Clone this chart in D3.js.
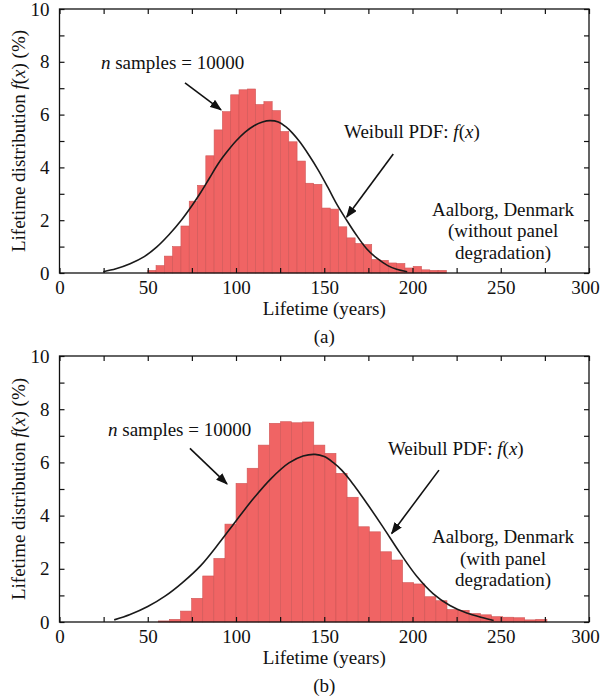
<!DOCTYPE html>
<html lang="en">
<head>
<meta charset="utf-8">
<title>Lifetime distribution - Aalborg</title>
<script src="https://d3js.org/d3.v7.min.js"></script>
<style>
  body { margin: 0; background: #fff; }
  svg text {
    font-family: "Liberation Serif", "Times New Roman", serif;
    font-size: 19px;
    fill: #111;
  }
  .bar { fill: #f06464; stroke: #cf5656; stroke-width: 0.6; }
  .pdf { fill: none; stroke: #1a1a1a; stroke-width: 1.6; }
  .frame { fill: none; stroke: #111; stroke-width: 1.3; }
  .tick line { stroke: #111; stroke-width: 1.2; }
  .arrow { stroke: #111; stroke-width: 1.6; }
</style>
</head>
<body>
<script>
var width = 600,
    height = 700;

// ticks
var xTickLabels = [0, 50, 100, 150, 200, 250, 300];
var xMinorTicks = [25, 75, 125, 175, 225, 275];
var yTickLabels = [0, 2, 4, 6, 8, 10];
var yMinorTicks = [1, 3, 5, 7, 9];

// (a) without panel degradation - histogram in % of samples
var binStartA = 50, binWidthA = 4.7;
var histA = [0.10, 0.28, 0.64, 1.00, 1.78, 2.72, 3.32, 4.44, 5.42, 6.11,
             6.75, 6.94, 6.97, 6.38, 6.49, 6.15, 5.36, 4.97, 4.24, 3.40,
             3.36, 2.46, 2.42, 1.75, 1.33, 1.12, 1.08, 0.51, 0.48, 0.38,
             0.36, 0.19, 0.25, 0.12, 0.10, 0.10];
// weibull pdf [years, %]
var pdfA = [[24.8, 0.05], [32, 0.16], [40, 0.35], [48, 0.62], [55, 0.98],
            [62, 1.45], [69, 2.0], [75, 2.55], [80, 3.05], [85, 3.6],
            [90, 4.15], [95, 4.6], [100, 5.0], [105, 5.33], [110, 5.57],
            [115, 5.72], [119.3, 5.77], [124, 5.72], [128, 5.55], [132, 5.3],
            [136, 4.98], [141, 4.5], [146.6, 3.9], [152, 3.25], [157, 2.62],
            [162.7, 2.0], [168.4, 1.42], [174, 0.92], [180, 0.55], [186, 0.28],
            [191, 0.14], [197, 0.05]];

// (b) with panel degradation
var binStartB = 56, binWidthB = 6.29;
var histB = [0.04, 0.10, 0.41, 0.89, 1.73, 2.39, 3.68, 5.21, 5.78, 6.65,
             7.47, 7.53, 7.49, 7.52, 6.65, 6.34, 5.59, 4.69, 3.58, 3.39,
             2.64, 2.33, 1.48, 1.43, 0.95, 0.80, 0.47, 0.44, 0.32, 0.27,
             0.20, 0.18, 0.16, 0.08, 0.10];
var pdfB = [[31, 0.08], [40, 0.28], [50, 0.58], [60, 0.98], [70, 1.5],
            [80, 2.12], [90, 2.93], [100, 3.8], [110, 4.65], [120, 5.4],
            [130, 5.98], [138, 6.24], [144.8, 6.3], [150, 6.22], [155, 6.0],
            [160, 5.7], [165, 5.3], [170, 4.85], [175, 4.38], [183.5, 3.55],
            [192.9, 2.6], [202.4, 1.72], [211.8, 1.06], [221.2, 0.62], [230.7, 0.34],
            [240, 0.16], [246, 0.06]];

var siteLinesA = ["Aalborg, Denmark", "(without panel", "degradation)"];
var siteLinesB = ["Aalborg, Denmark", "(with panel", "degradation)"];

// layout of the two panels, annotation anchors are in data units
var panels = [
  { top: 9, bottom: 273, caption: "(a)", hist: histA, start: binStartA, bw: binWidthA, pdf: pdfA,
    site: siteLinesA, siteAt: [251.3, 2.17], nAt: [23.5, 7.73], nArrow: [[71.1, 7.2], [91.5, 6.18]],
    wAt: [161.2, 5.12], wArrow: [[189.1, 4.51], [162.7, 2.12]] },
  { top: 356, bottom: 622, caption: "(b)", hist: histB, start: binStartB, bw: binWidthB, pdf: pdfB,
    site: siteLinesB, siteAt: [251.3, 2.97], nAt: [27.5, 6.99], nArrow: [[73.9, 6.53], [94.9, 5.19]],
    wAt: [186.1, 6.28], wArrow: [[215, 5.71], [188.2, 3.33]] }
];

var x = d3.scaleLinear()
    .domain([0, 300])
    .range([59.5, 589]);

var svg = d3.select("body").append("svg")
    .attr("width", width)
    .attr("height", height);

svg.append("defs").append("marker")
    .attr("id", "head")
    .attr("viewBox", "0 0 10 10")
    .attr("refX", 9)
    .attr("refY", 5)
    .attr("markerWidth", 12)
    .attr("markerHeight", 9)
    .attr("markerUnits", "userSpaceOnUse")
    .attr("preserveAspectRatio", "none")
    .attr("orient", "auto")
  .append("path")
    .attr("d", "M0,0L10,5L0,10Z")
    .attr("fill", "#111");

panels.forEach(function(p) {
  var y = d3.scaleLinear()
      .domain([0, 10])
      .range([p.bottom, p.top]);

  var g = svg.append("g");

  // histogram bars
  g.selectAll("rect.bar")
      .data(p.hist)
      .enter().append("rect")
      .attr("class", "bar")
      .attr("x", function(d, i) { return x(p.start + i * p.bw); })
      .attr("width", function(d, i) { return x(p.start + (i + 1) * p.bw) - x(p.start + i * p.bw); })
      .attr("y", function(d) { return y(d); })
      .attr("height", function(d) { return y(0) - y(d); });

  var line = d3.line()
      .x(function(d) { return x(d[0]); })
      .y(function(d) { return y(d[1]); })
      .curve(d3.curveCatmullRom);

  g.append("path")
      .datum(p.pdf)
      .attr("class", "pdf")
      .attr("d", line);

  // axes, ticks pointing inwards on all four sides
  var xTicks = xTickLabels.concat(xMinorTicks);
  var yTicks = yTickLabels.concat(yMinorTicks);
  var xFmt = function(d) { return xTickLabels.indexOf(d) >= 0 ? d : ""; };
  var yFmt = function(d) { return yTickLabels.indexOf(d) >= 0 ? d : ""; };

  g.append("g")
      .attr("transform", "translate(0," + p.bottom + ")")
      .call(d3.axisBottom(x).tickValues(xTicks).tickSize(-5).tickPadding(8).tickFormat(xFmt))
      .call(function(a) {
        a.select(".domain").remove();
        // keep the last label inside the page
        a.selectAll(".tick text").filter(function(d) { return d === 300; }).attr("dx", -4);
      });

  g.append("g")
      .attr("transform", "translate(0," + p.top + ")")
      .call(d3.axisTop(x).tickValues(xTicks).tickSize(-5).tickFormat(""))
      .call(function(a) { a.select(".domain").remove(); });

  g.append("g")
      .attr("transform", "translate(" + x(0) + ",0)")
      .call(d3.axisLeft(y).tickValues(yTicks).tickSize(-5).tickPadding(10).tickFormat(yFmt))
      .call(function(a) { a.select(".domain").remove(); });

  g.append("g")
      .attr("transform", "translate(" + x(300) + ",0)")
      .call(d3.axisRight(y).tickValues(yTicks).tickSize(-5).tickFormat(""))
      .call(function(a) { a.select(".domain").remove(); });

  g.append("rect")
      .attr("class", "frame")
      .attr("x", x(0))
      .attr("y", p.top)
      .attr("width", x(300) - x(0))
      .attr("height", p.bottom - p.top);

  // labels
  var ylab = g.append("text")
      .attr("transform", "translate(25," + ((p.top + p.bottom) / 2) + ") rotate(-90)")
      .attr("text-anchor", "middle");
  ylab.append("tspan").text("Lifetime distribution ");
  ylab.append("tspan").attr("font-style", "italic").text("f");
  ylab.append("tspan").text("(");
  ylab.append("tspan").attr("font-style", "italic").text("x");
  ylab.append("tspan").text(") (%)");

  g.append("text")
      .attr("x", (x(0) + x(300)) / 2)
      .attr("y", p.bottom + 42)
      .attr("text-anchor", "middle")
      .text("Lifetime (years)");

  g.append("text")
      .attr("x", (x(0) + x(300)) / 2)
      .attr("y", p.bottom + 70)
      .attr("text-anchor", "middle")
      .text(p.caption);

  // annotations
  var nt = g.append("text")
      .attr("x", x(p.nAt[0]))
      .attr("y", y(p.nAt[1]));
  nt.append("tspan").attr("font-style", "italic").text("n");
  nt.append("tspan").text(" samples = 10000");

  var wt = g.append("text")
      .attr("x", x(p.wAt[0]))
      .attr("y", y(p.wAt[1]));
  wt.append("tspan").text("Weibull PDF: ");
  wt.append("tspan").attr("font-style", "italic").text("f");
  wt.append("tspan").text("(");
  wt.append("tspan").attr("font-style", "italic").text("x");
  wt.append("tspan").text(")");

  [p.nArrow, p.wArrow].forEach(function(a) {
    g.append("line")
        .attr("class", "arrow")
        .attr("x1", x(a[0][0]))
        .attr("y1", y(a[0][1]))
        .attr("x2", x(a[1][0]))
        .attr("y2", y(a[1][1]))
        .attr("marker-end", "url(#head)");
  });

  g.selectAll("text.site")
      .data(p.site)
      .enter().append("text")
      .attr("class", "site")
      .attr("x", x(p.siteAt[0]))
      .attr("y", function(d, i) { return y(p.siteAt[1]) + i * 21.7; })
      .attr("text-anchor", "middle")
      .text(function(d) { return d; });
});
</script>
</body>
</html>
